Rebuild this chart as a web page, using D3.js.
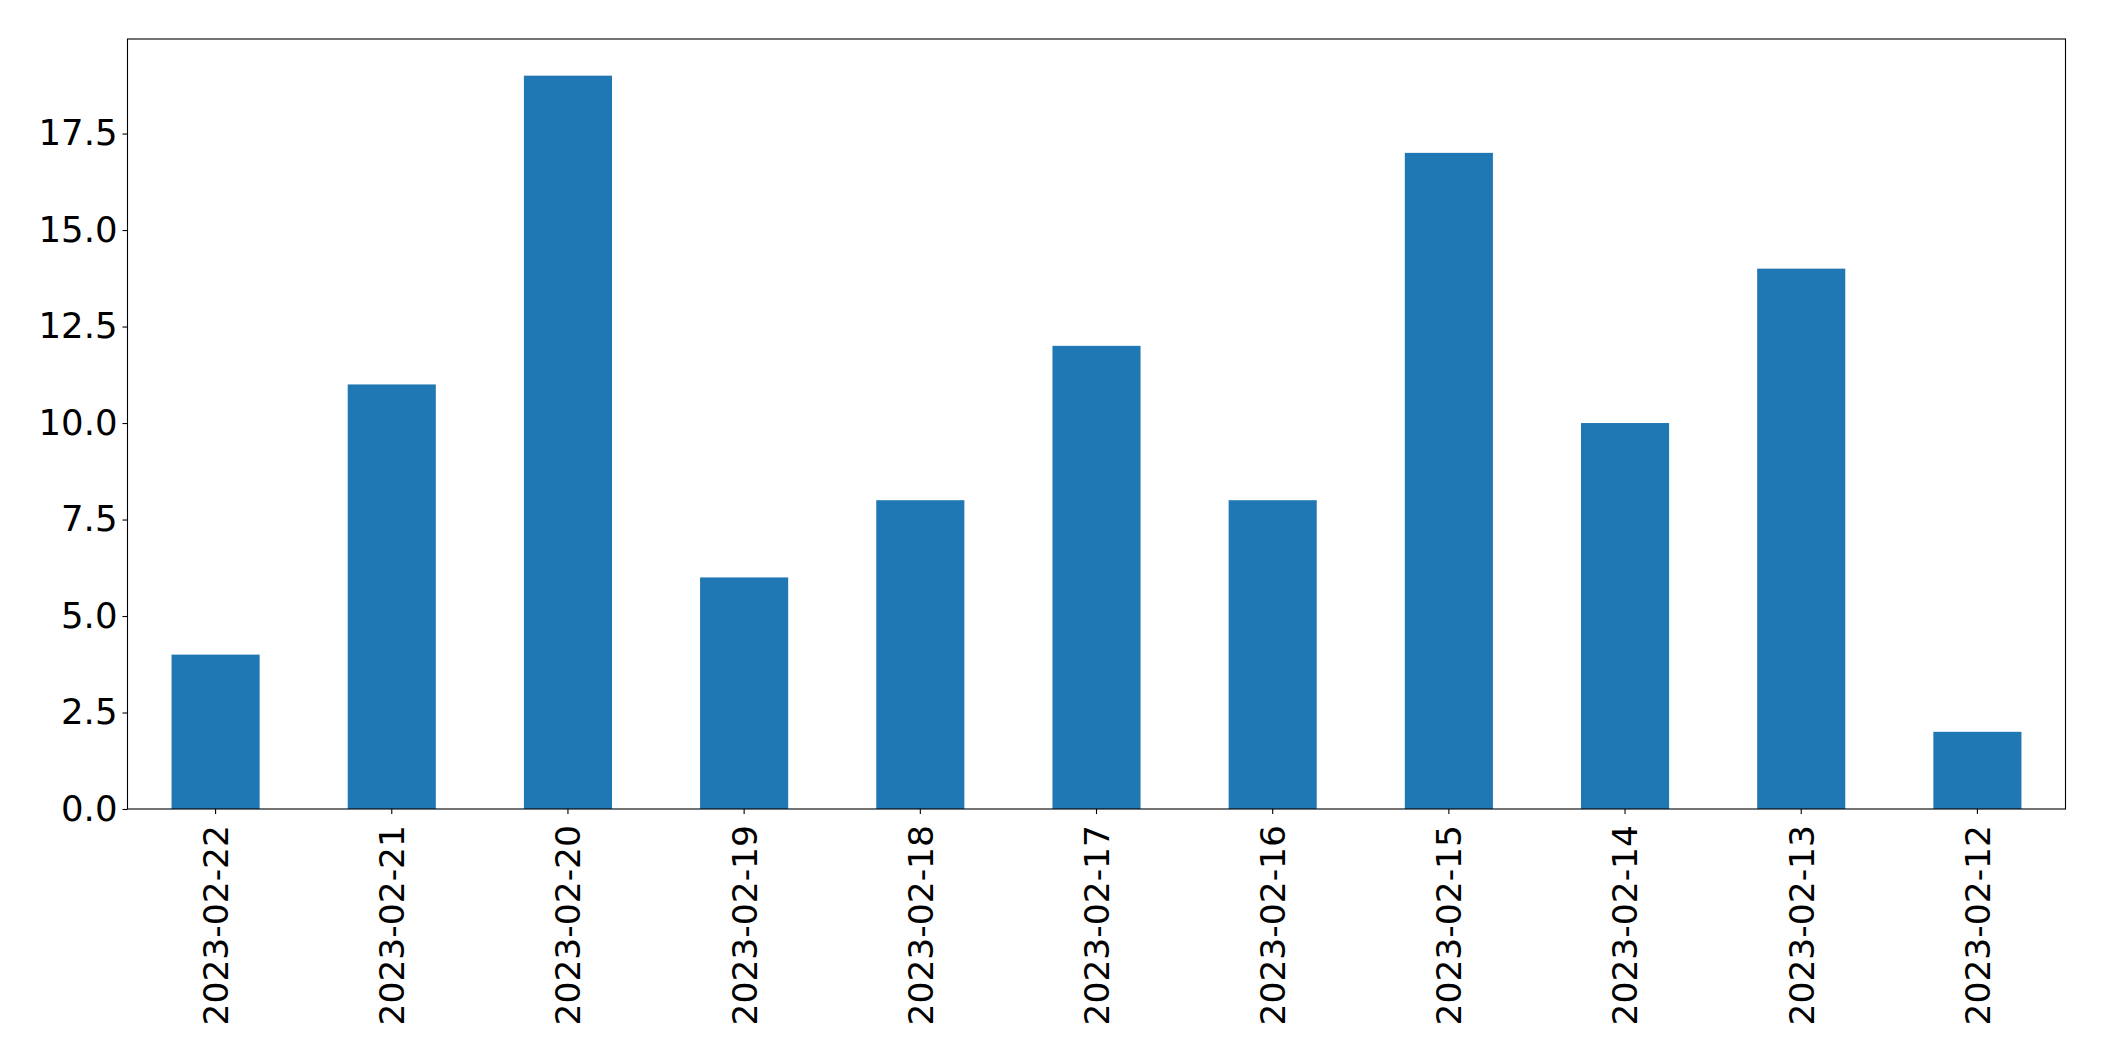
<!DOCTYPE html>
<html><head><meta charset="utf-8">
<script src="https://cdn.jsdelivr.net/npm/d3@7"></script>
<style>body{margin:0;background:#fff;} text{font-family:"DejaVu Sans",sans-serif;}</style>
</head><body>
<svg id="c" width="2104" height="1061"></svg>
<script>
const categories = ["2023-02-22","2023-02-21","2023-02-20","2023-02-19","2023-02-18","2023-02-17","2023-02-16","2023-02-15","2023-02-14","2023-02-13","2023-02-12"];
const values = [4, 11, 19, 6, 8, 12, 8, 17, 10, 14, 2];
const yTicks = [0, 2.5, 5, 7.5, 10, 12.5, 15, 17.5];

const m = {left: 127.5, right: 2065.5, top: 39, bottom: 809};
const svg = d3.select("#c");
const x = d3.scaleBand().domain(categories).range([m.left, m.right]).paddingInner(0.5).paddingOuter(0.25);
const y = d3.scaleLinear().domain([0, 19.95]).range([m.bottom, m.top]);

svg.append("g").selectAll("rect").data(values).join("rect")
  .attr("x", (d,i) => x(categories[i]))
  .attr("width", x.bandwidth())
  .attr("y", d => y(d))
  .attr("height", d => y(0) - y(d))
  .attr("fill", "#1f77b4");

const yAxis = svg.append("g").attr("transform", `translate(${m.left},0)`)
  .call(d3.axisLeft(y).tickValues(yTicks).tickFormat(d3.format(".1f")).tickSize(5).tickPadding(5));
yAxis.select(".domain").remove();
yAxis.selectAll("text").attr("font-size", 35.5).attr("fill", "#000").attr("font-family", "DejaVu Sans");
yAxis.selectAll("line").attr("stroke", "#000").attr("stroke-width", 1.1);

const xAxis = svg.append("g").attr("transform", `translate(0,${m.bottom})`)
  .call(d3.axisBottom(x).tickSize(5).tickPadding(0));
xAxis.select(".domain").remove();
xAxis.selectAll("line").attr("stroke", "#000").attr("stroke-width", 1.1);
xAxis.selectAll("text")
  .attr("font-size", 34.5).attr("fill", "#000").attr("font-family", "DejaVu Sans")
  .attr("text-anchor", "end")
  .attr("transform", "rotate(-90)")
  .attr("x", -16).attr("y", 0).attr("dy", "0.36em");

svg.append("rect").attr("x", m.left).attr("y", m.top)
  .attr("width", m.right - m.left).attr("height", m.bottom - m.top)
  .attr("fill", "none").attr("stroke", "#000").attr("stroke-width", 1.1);
</script>
</body></html>
